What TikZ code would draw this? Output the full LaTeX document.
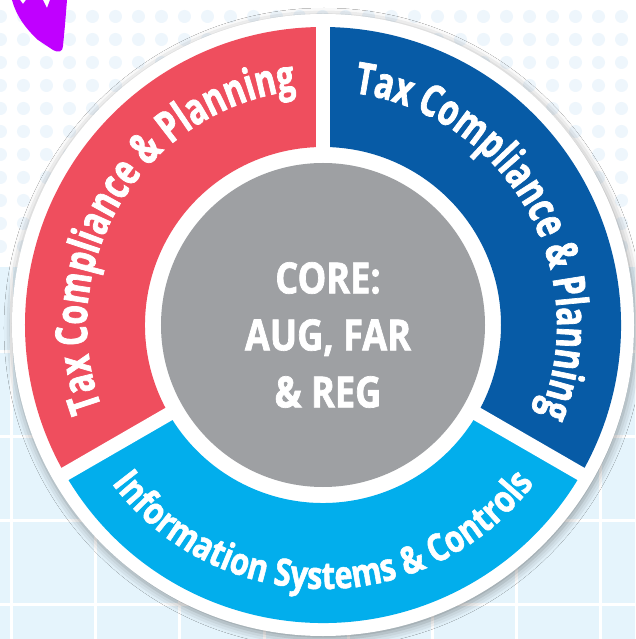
\documentclass[tikz,border=0pt]{standalone}
\usepackage{fontspec}
\newfontfamily\ringfont{Open Sans}[FakeStretch=0.72,FakeBold=1.6]
\newfontfamily\botfont{Open Sans}[FakeStretch=0.81,FakeBold=1.4]
\newfontfamily\corefont{Open Sans}[FakeStretch=0.84,FakeBold=1.6]
\usetikzlibrary{decorations.text,shadows.blur}
\definecolor{redseg}{HTML}{EF4E5E}
\definecolor{darkseg}{HTML}{075BA6}
\definecolor{lightseg}{HTML}{02AEEC}
\definecolor{coregray}{HTML}{9EA0A3}
\definecolor{bgblue}{HTML}{E5F4FC}
\definecolor{dotblue}{HTML}{EEF6FC}
\definecolor{brush}{HTML}{C000FF}
\tikzset{
  sepline/.style={white,line width=14pt},
  gridline/.style={white,line width=3pt},
}
\begin{document}
\begin{tikzpicture}[x=1pt,y=1pt]
\useasboundingbox (-323,-314) rectangle (312,325);
% background in image coordinates
\begin{scope}[shift={(-323,325)},yscale=-1]
  \fill[white] (0,0) rectangle (635,267);
  \fill[bgblue] (0,267) rectangle (635,639);
  \foreach \i in {0,...,27}
    \foreach \j in {0,...,10}
      \fill[dotblue] (0.5+23*\i,16.5+23*\j) circle[radius=6.5];
  \foreach \x in {12,96,...,600}
    \draw[gridline] (\x,267) -- (\x,639);
  \foreach \y in {352,436,520,604}
    \draw[gridline] (0,\y) -- (635,\y);
  \fill[brush] (12,0) -- (20,0) -- (23,4) -- (26,0) -- (43,0) -- (47,8) -- (50,0) -- (67,0)
    -- (65,25) -- (63,46) .. controls (63,52) and (58,53) .. (53,50)
    -- (38,40) .. controls (25,28) and (16,15) .. (12,0) -- cycle;
\end{scope}
% outer white disk
\fill[white,blur shadow={shadow xshift=1pt,shadow yshift=-3pt,shadow blur radius=9pt,shadow opacity=40}] (0,0) circle[radius=311];
% segments
\fill[redseg] (90:298) arc[start angle=90,end angle=210,radius=298] -- (210:178) arc[start angle=210,end angle=90,radius=178] -- cycle;
\fill[lightseg] (210:298) arc[start angle=210,end angle=330,radius=298] -- (330:178) arc[start angle=330,end angle=210,radius=178] -- cycle;
\fill[darkseg] (330:298) arc[start angle=330,end angle=450,radius=298] -- (90:178) arc[start angle=90,end angle=-30,radius=178] -- cycle;
\foreach \a in {90,210,330}
  \draw[sepline] (\a:170) -- (\a:302);
% core
\fill[coregray] (0,0) circle[radius=162];
\node[align=center,text=white,font=\corefont\bfseries\fontsize{43}{57}\selectfont] (core) at (5,-10) {CORE:\\AUG, FAR\\\& REG};
% ring labels
\path[decorate,decoration={text along path,text align=center,
  text={|\ringfont\bfseries\fontsize{44}{44}\selectfont\color{white}|Tax Compliance {\&} Planning}}]
  (208.5:236) arc[start angle=208.5,end angle=88.5,radius=236];
\path[decorate,decoration={text along path,text align=center,
  text={|\ringfont\bfseries\fontsize{44}{44}\selectfont\color{white}|Tax Compliance {\&} Planning}}]
  (90:234) arc[start angle=90,end angle=-30,radius=234];
\path[decorate,decoration={text along path,text align=center,
  text={|\botfont\bfseries\fontsize{38}{38}\selectfont\color{white}|Information Systems {\&} Controls}}]
  (210:264) arc[start angle=210,end angle=330,radius=264];
\end{tikzpicture}
\end{document}
